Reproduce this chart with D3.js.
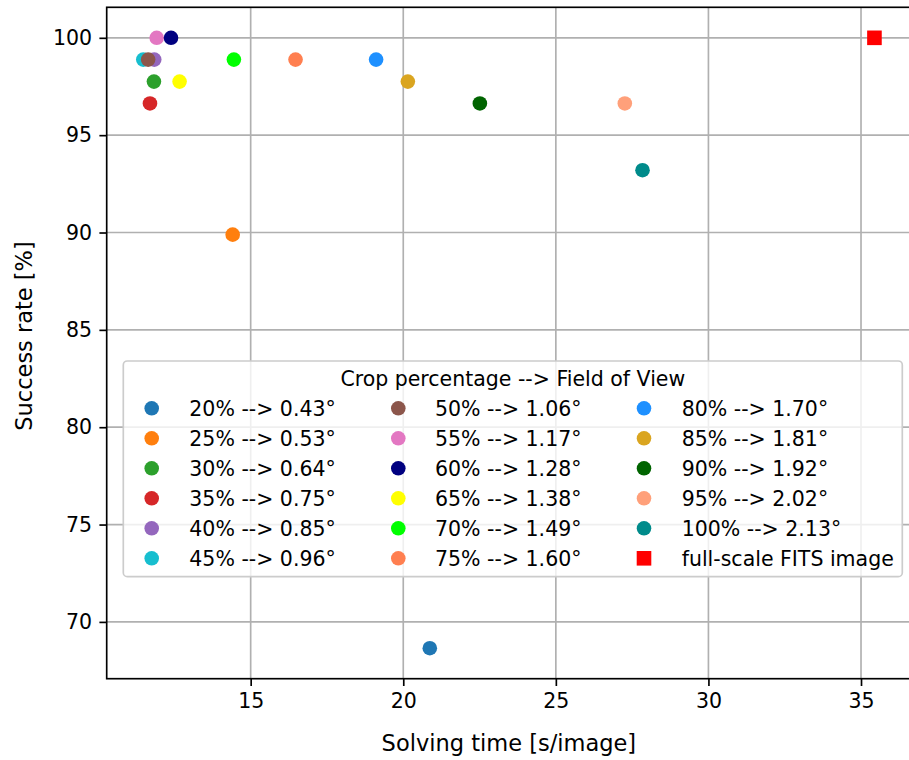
<!DOCTYPE html>
<html>
<head>
<meta charset="utf-8">
<script src="https://cdn.jsdelivr.net/npm/d3@7"></script>
<style>
  body { margin: 0; background: #fff; }
  svg { display: block; font-family: "DejaVu Sans", sans-serif; }
</style>
</head>
<body>
<div id="chart"></div>
<script>
// crop runs, one point each
var labels = ["20% --> 0.43°", "25% --> 0.53°", "30% --> 0.64°", "35% --> 0.75°",
              "40% --> 0.85°", "45% --> 0.96°", "50% --> 1.06°", "55% --> 1.17°",
              "60% --> 1.28°", "65% --> 1.38°", "70% --> 1.49°", "75% --> 1.60°",
              "80% --> 1.70°", "85% --> 1.81°", "90% --> 1.92°", "95% --> 2.02°",
              "100% --> 2.13°"];
var times = [20.87, 14.41, 11.83, 11.70, 11.84, 11.48, 11.64, 11.92, 12.39,
             12.67, 14.45, 16.47, 19.11, 20.15, 22.51, 27.26, 27.84];
var rates = [68.65, 89.89, 97.75, 96.63, 98.88, 98.88, 98.88, 100, 100,
             97.75, 98.88, 98.88, 98.88, 97.75, 96.63, 96.63, 93.2];
var colors = ["#1f77b4", "#ff7f0e", "#2ca02c", "#d62728", "#9467bd", "#17becf",
              "#8c564b", "#e377c2", "navy", "yellow", "lime", "coral",
              "dodgerblue", "goldenrod", "darkgreen", "lightsalmon", "darkcyan"];

// full-scale reference
var fullLabel = "full-scale FITS image";
var fullTime = 35.44;
var fullRate = 100;
var fullColor = "red";

var xTicks = [15, 20, 25, 30, 35];
var yTicks = [70, 75, 80, 85, 90, 95, 100];

var W = 909, H = 760;
var pLeft = 106.7, pRight = 911, pTop = 7.3, pBottom = 678.7;
var fs = 20.5;   // ticks and legend
var lfs = 22.5;  // axis titles
var lw = 1.67;
var r = 7.3;

var svg = d3.select("#chart").append("svg")
    .attr("width", W)
    .attr("height", H);

// 5% padding like matplotlib autoscale
var allX = times.concat([fullTime]);
var allY = rates.concat([fullRate]);
var xe = d3.extent(allX), ye = d3.extent(allY);
var xp = (xe[1] - xe[0]) * 0.05, yp = (ye[1] - ye[0]) * 0.05;

var x = d3.scaleLinear().domain([xe[0] - xp, xe[1] + xp]).range([pLeft, pRight]);
var y = d3.scaleLinear().domain([ye[0] - yp, ye[1] + yp]).range([pBottom, pTop]);

// grid
svg.append("g").selectAll("line")
   .data(xTicks)
   .enter()
   .append("line")
   .attr("x1", function(d) { return x(d); })
   .attr("x2", function(d) { return x(d); })
   .attr("y1", pTop)
   .attr("y2", pBottom)
   .attr("stroke", "#b0b0b0")
   .attr("stroke-width", lw);
svg.append("g").selectAll("line")
   .data(yTicks)
   .enter()
   .append("line")
   .attr("x1", pLeft)
   .attr("x2", pRight)
   .attr("y1", function(d) { return y(d); })
   .attr("y2", function(d) { return y(d); })
   .attr("stroke", "#b0b0b0")
   .attr("stroke-width", lw);

// points
var pts = d3.range(times.length);
svg.append("g").selectAll("circle")
   .data(pts)
   .enter()
   .append("circle")
   .attr("cx", function(i) { return x(times[i]); })
   .attr("cy", function(i) { return y(rates[i]); })
   .attr("r", r)
   .attr("fill", function(i) { return colors[i]; });

svg.append("rect")
   .attr("x", x(fullTime) - r)
   .attr("y", y(fullRate) - r)
   .attr("width", 2 * r)
   .attr("height", 2 * r)
   .attr("fill", fullColor);

// axes
var xAxis = svg.append("g")
    .attr("transform", "translate(0," + pBottom + ")")
    .call(d3.axisBottom(x).tickValues(xTicks).tickFormat(d3.format("d"))
          .tickSize(7.3).tickPadding(7.3).tickSizeOuter(0));
var yAxis = svg.append("g")
    .attr("transform", "translate(" + pLeft + ",0)")
    .call(d3.axisLeft(y).tickValues(yTicks).tickFormat(d3.format("d"))
          .tickSize(7.3).tickPadding(7.3).tickSizeOuter(0));
[xAxis, yAxis].forEach(function(a) {
    a.selectAll("text")
     .attr("font-size", fs + "px")
     .attr("font-family", "DejaVu Sans")
     .attr("fill", "#000");
    a.selectAll("line").attr("stroke", "#000").attr("stroke-width", lw);
    a.select(".domain").remove();
});

// frame
svg.append("rect")
   .attr("x", pLeft)
   .attr("y", pTop)
   .attr("width", pRight - pLeft)
   .attr("height", pBottom - pTop)
   .attr("fill", "none")
   .attr("stroke", "#000")
   .attr("stroke-width", lw);

// axis labels
svg.append("text")
   .text("Solving time [s/image]")
   .attr("x", (pLeft + pRight) / 2)
   .attr("y", 751)
   .attr("text-anchor", "middle")
   .attr("font-size", lfs + "px");
svg.append("text")
   .text("Success rate [%]")
   .attr("transform", "translate(32,336) rotate(-90)")
   .attr("text-anchor", "middle")
   .attr("font-size", lfs + "px");

// legend
var lg = svg.append("g");
lg.append("rect")
  .attr("x", 123.3)
  .attr("y", 361)
  .attr("width", 902.3 - 123.3)
  .attr("height", 576.7 - 361)
  .attr("rx", 4)
  .attr("fill", "#fff")
  .attr("fill-opacity", 0.8)
  .attr("stroke", "#cccccc")
  .attr("stroke-width", lw);
lg.append("text")
  .text("Crop percentage --> Field of View")
  .attr("x", (123.3 + 902.3) / 2)
  .attr("y", 386)
  .attr("text-anchor", "middle")
  .attr("font-size", fs + "px");

var colMarker = [151.7, 398.3, 644];
var colText = [189.3, 435, 681.7];
var row0 = 408.3, rowStep = 30;

var entries = pts.map(function(i) {
    return { label: labels[i], color: colors[i], square: false };
});
entries.push({ label: fullLabel, color: fullColor, square: true });

var item = lg.selectAll("g.item")
    .data(entries)
    .enter()
    .append("g")
    .attr("class", "item")
    .attr("transform", function(d, i) {
        return "translate(0," + (row0 + (i % 6) * rowStep) + ")";
    });
item.filter(function(d) { return !d.square; })
    .append("circle")
    .attr("cx", function(d) { return colMarker[Math.floor(entries.indexOf(d) / 6)]; })
    .attr("cy", 0)
    .attr("r", r)
    .attr("fill", function(d) { return d.color; });
item.filter(function(d) { return d.square; })
    .append("rect")
    .attr("x", function(d) { return colMarker[Math.floor(entries.indexOf(d) / 6)] - r; })
    .attr("y", -r)
    .attr("width", 2 * r)
    .attr("height", 2 * r)
    .attr("fill", function(d) { return d.color; });
item.append("text")
    .text(function(d) { return d.label; })
    .attr("x", function(d) { return colText[Math.floor(entries.indexOf(d) / 6)]; })
    .attr("y", 7.5)
    .attr("font-size", fs + "px");
</script>
</body>
</html>
